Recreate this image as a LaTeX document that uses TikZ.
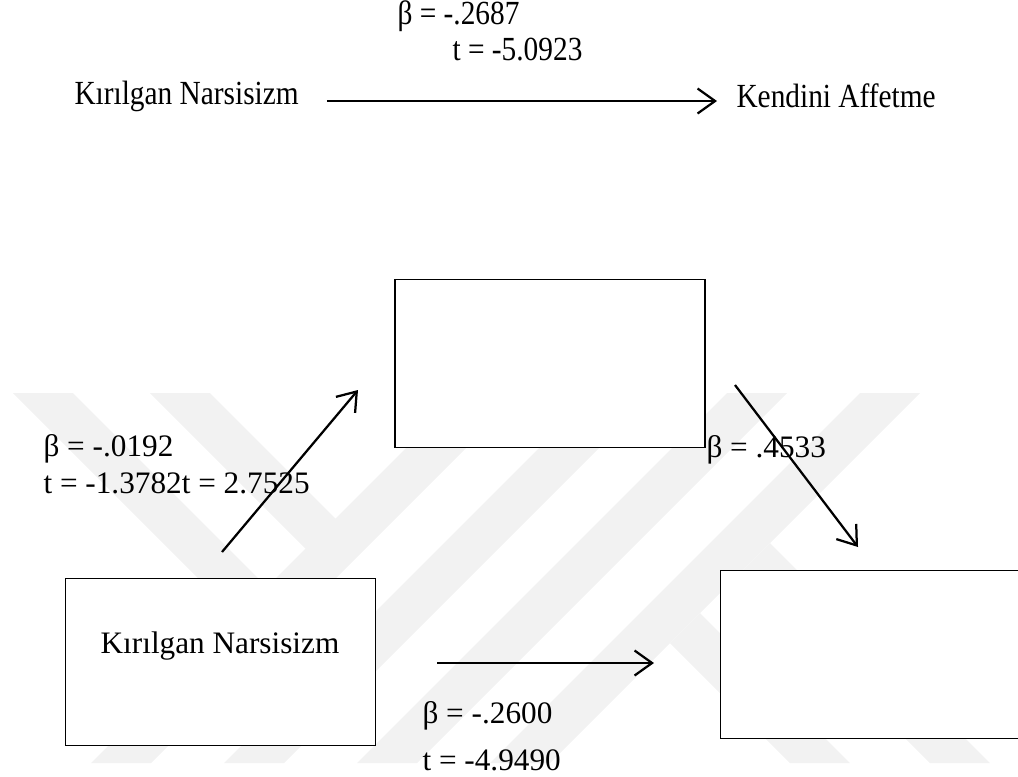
\documentclass[tikz,border=0pt]{standalone}
\usepackage{fontspec}
\setmainfont{Liberation Serif}
\newfontfamily\darfont[FakeStretch=0.87]{Liberation Serif}
\usetikzlibrary{arrows.meta, positioning}
\definecolor{FiligranGrey}{RGB}{242, 242, 242}

\begin{document}
\begin{tikzpicture}[x=0.4pt, y=-0.4pt,
    kutu/.style={draw, line width=0.5pt, fill=white, minimum width=124pt, minimum height=67pt, inner sep=0pt},
    yazi/.style={inner sep=0pt, font=\fontsize{12.5}{15}\selectfont},
    dar/.style={inner sep=0pt, font=\darfont\fontsize{13.5}{16}\selectfont},
    ok/.style={-{Straight Barb[length=7pt, width=10pt]}, line width=0.9pt},
    filigran/.style={fill=FiligranGrey, draw=none}]
    \useasboundingbox (0,0) rectangle (1018,776);
    \clip (0,0) rectangle (1018,776);

    % Filigran (arka plan)
    \foreach \c in {854, 987, 1120, 1253}
        \fill[filigran] (\c-393,393) -- (\c-333,393) -- (\c-703,763) -- (\c-763,763) -- cycle;
    \fill[filigran] (13,393) -- (73,393) -- (267,587) -- (237,617) -- cycle;
    \fill[filigran] (150,393) -- (210,393) -- (336,519) -- (306,549) -- cycle;
    \fill[filigran] (700,613) -- (850,763) -- (790,763) -- (670,643) -- cycle;
    \fill[filigran] (770,543) -- (990,763) -- (930,763) -- (740,573) -- cycle;

    % Toplam etki
    \node[dar, anchor=west] (b1) at (397,16) {β = -.2687};
    \node[dar, anchor=west] (t1) at (452,50) {t = -5.0923};
    \node[dar, anchor=west] (KN) at (74,96) {Kırılgan Narsisizm};
    \node[dar, anchor=west] (KA) at (736,96) {Kendini Affetme};
    \draw[ok] ([xshift=11pt, yshift=-2pt]KN.east) -- ([xshift=-7.6pt, yshift=-2pt]KA.west);

    % Aracı model
    \node[kutu] (M) at (550,363.5) {};
    \node[kutu] (X) at (220.5,662) {};
    \node[yazi] (Xad) at (220,646) {Kırılgan Narsisizm};
    \node[kutu, minimum width=130pt, anchor=north west] (Y) at (720,570) {};

    % Katsayılar
    \node[yazi, anchor=west] (b2) at (43,449) {β = -.0192};
    \node[yazi, anchor=west] (t2) at (43,483) {t = -1.3782t = 2.7525};
    \node[yazi, anchor=west] (b3) at (706,450) {β = .4533};
    \node[yazi, anchor=west] (b4) at (422,716) {β = -.2600};
    \node[yazi, anchor=west] (t4) at (422,760) {t = -4.9490};

    % Yollar
    \coordinate (o1s) at (222,552);
    \coordinate (o1e) at (358,390);
    \coordinate (o2s) at (735,385);
    \coordinate (o2e) at (858,547);
    \coordinate (o3s) at (437,663);
    \coordinate (o3e) at (654,663);
    \draw[ok] (o1s) -- (o1e);
    \draw[ok] (o2s) -- (o2e);
    \draw[ok] (o3s) -- (o3e);
\end{tikzpicture}
\end{document}
